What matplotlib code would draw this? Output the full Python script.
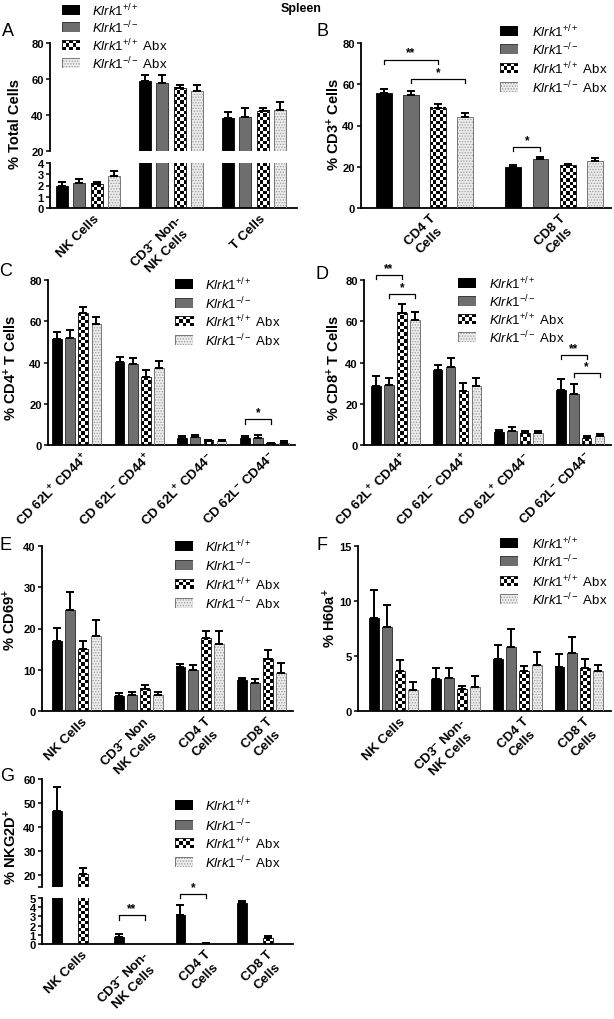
import numpy as np
import matplotlib
matplotlib.use("Agg")
import matplotlib.pyplot as plt
from matplotlib.patches import Rectangle
from matplotlib.transforms import ScaledTranslation

plt.rcParams["font.family"] = ["Liberation Sans", "DejaVu Sans"]
plt.rcParams["mathtext.fontset"] = "custom"
plt.rcParams["mathtext.rm"] = "Liberation Sans"
plt.rcParams["mathtext.it"] = "Liberation Sans:italic"
plt.rcParams["mathtext.bf"] = "Liberation Sans:bold"
plt.rcParams["hatch.color"] = "#9a9a9a"
plt.rcParams["hatch.linewidth"] = 0.6

W, H = 614, 1020

# ─── Data (rows = series, columns = groups) ───────────────────────────────────
SERIES = [r"$\mathit{Klrk1}^{+/+}$", r"$\mathit{Klrk1}^{-/-}$",
          r"$\mathit{Klrk1}^{+/+}$ Abx", r"$\mathit{Klrk1}^{-/-}$ Abx"]

a_groups = ["NK Cells", "CD3$^{\\mathbf{-}}$ Non-\nNK Cells", "T Cells"]
a_mean = [[2.0, 59.0, 38.3], [2.25, 57.7, 39.0], [2.15, 55.2, 42.3], [2.85, 53.3, 42.9]]
a_err = [[0.35, 3.5, 3.4], [0.35, 4.8, 4.8], [0.2, 1.4, 1.5], [0.45, 3.5, 4.4]]

b_groups = ["CD4 T\nCells", "CD8 T\nCells"]
b_mean = [[55.9, 19.9], [54.6, 23.9], [48.5, 20.7], [44.1, 22.8]]
b_err = [[1.6, 1.1], [1.9, 0.8], [2.1, 0.5], [1.9, 1.4]]
b_sig = [(0, 0, 2, 72.0, "**"), (0, 1, 3, 62.7, "*"), (1, 0, 1, 29.6, "*")]

cd_groups = ["CD 62L$^{\\mathbf{+}}$ CD44$^{\\mathbf{+}}$",
             "CD 62L$^{\\mathbf{-}}$ CD44$^{\\mathbf{+}}$",
             "CD 62L$^{\\mathbf{+}}$ CD44$^{\\mathbf{-}}$",
             "CD 62L$^{\\mathbf{-}}$ CD44$^{\\mathbf{-}}$"]
c_mean = [[51.5, 40.4, 3.5, 3.2], [51.8, 39.3, 3.8, 3.6], [63.9, 32.8, 2.0, 0.6], [58.6, 37.4, 2.0, 1.2]]
c_err = [[3.5, 2.1, 0.8, 1.0], [4.2, 2.9, 1.0, 1.1], [3.2, 3.6, 0.6, 0.3], [3.5, 3.4, 0.5, 0.6]]
c_sig = [(3, 0, 2, 12.6, "*")]

d_mean = [[28.8, 36.6, 6.1, 26.9], [29.3, 38.0, 6.6, 24.6], [64.1, 26.0, 5.7, 3.4], [60.8, 28.5, 5.8, 4.2]]
d_err = [[4.5, 2.2, 1.4, 5.0], [3.1, 4.1, 2.2, 5.0], [4.3, 4.1, 1.2, 1.0], [3.9, 4.0, 1.0, 1.0]]
d_sig = [(0, 0, 2, 82.5, "**"), (0, 1, 3, 73.3, "*"), (3, 0, 2, 43.7, "**"), (3, 1, 3, 35.0, "*")]

e_groups = ["NK Cells", "CD3$^{\\mathbf{-}}$ Non\nNK Cells", "CD4 T\nCells", "CD8 T\nCells"]
e_mean = [[17.0, 3.6, 10.7, 7.4], [24.4, 3.9, 9.9, 6.9], [15.1, 5.4, 17.8, 12.7], [18.3, 4.0, 16.2, 9.1]]
e_err = [[3.2, 0.7, 0.8, 0.5], [4.5, 0.7, 1.2, 0.8], [1.9, 0.8, 1.6, 2.0], [3.8, 0.7, 3.2, 2.5]]

fg_groups = ["NK Cells", "CD3$^{\\mathbf{-}}$ Non-\nNK Cells", "CD4 T\nCells", "CD8 T\nCells"]
f_mean = [[8.5, 2.9, 4.7, 4.0], [7.6, 3.0, 5.85, 5.3], [3.6, 2.0, 3.6, 3.9], [1.9, 2.2, 4.2, 3.6]]
f_err = [[2.5, 1.0, 1.3, 1.2], [2.0, 0.9, 1.6, 1.4], [1.0, 0.3, 0.5, 0.8], [0.7, 1.0, 1.2, 0.55]]

g_mean = [[46.5, 0.8, 3.1, 4.5], [0, 0, 0, 0], [20.3, 0, 0.1, 0.65], [0, 0, 0, 0]]
g_err = [[10.3, 0.3, 1.1, 0.2], [0, 0, 0, 0], [2.7, 0, 0.05, 0.25], [0, 0, 0, 0]]
g_sig = [(1, 0, 2, 3.1, "**"), (2, 0, 2, 5.4, "*")]

# ─── Styling helpers ──────────────────────────────────────────────────────────
STEP = 0.21
SQ = 3.4          # checker square size, px
YT_FS = 8
XT_FS = 9.5
fig = plt.figure(figsize=(W / 100, H / 100), dpi=100)


def px_axes(left, top, right, bottom):
    return fig.add_axes([left / W, 1 - bottom / H, (right - left) / W, (bottom - top) / H])


def checker(nr, nc):
    i, j = np.indices((nr, nc))
    return ((i + j) % 2).astype(float)


def bold_yticks(ax):
    for lab in ax.get_yticklabels():
        lab.set_fontweight("bold")


def draw_bars(ax, means, errs, width, xlim, ylim):
    means = np.asarray(means, float)
    errs = np.asarray(errs, float)
    ax.set_xlim(*xlim)
    ax.set_ylim(*ylim)
    ax.autoscale(False)
    x = np.arange(means.shape[1])
    for k in range(4):
        xs = x + (k - 1.5) * STEP
        m = means[k]
        if k == 0:
            ax.bar(xs, m, width, color="black", edgecolor="black", lw=0.6, zorder=2)
        elif k == 1:
            ax.bar(xs, m, width, color="#6e6e6e", edgecolor="#3a3a3a", lw=0.7, zorder=2)
        elif k == 2:
            for xi, mi in zip(xs, m):
                lo, hi = max(0, ylim[0]), min(mi, ylim[1])
                if hi <= lo:
                    continue
                p0 = ax.transData.transform((xi - width / 2, lo))
                p1 = ax.transData.transform((xi + width / 2, hi))
                nc = max(1, int(round((p1[0] - p0[0]) / SQ)))
                nr = max(1, int(round((p1[1] - p0[1]) / SQ)))
                ax.imshow(checker(nr, nc), cmap="gray", vmin=0, vmax=1, origin="lower",
                          extent=(xi - width / 2, xi + width / 2, lo, hi), aspect="auto",
                          interpolation="nearest", zorder=2)
            ax.bar(xs, m, width, fill=False, edgecolor="#222222", lw=0.7, zorder=3)
        else:
            ax.bar(xs, m, width, color="#ececec", hatch="......", zorder=2)
            ax.bar(xs, m, width, fill=False, edgecolor="#777777", lw=0.7, zorder=3)
        ok = errs[k] > 0
        ax.errorbar(xs[ok], m[ok], yerr=[np.zeros(ok.sum()), errs[k][ok]], fmt="none",
                    ecolor="black", elinewidth=1.4, capsize=2.6, capthick=1.4, zorder=4)
    ax.set_xlim(*xlim)
    ax.set_ylim(*ylim)
    for s in ("top", "right"):
        ax.spines[s].set_visible(False)
    for s in ("left", "bottom"):
        ax.spines[s].set_linewidth(1.3)
    ax.tick_params(axis="y", length=3, width=1.1, pad=1.5, labelsize=YT_FS)
    ax.tick_params(axis="x", length=0, pad=3, labelsize=XT_FS)


def set_groups(ax, groups):
    ax.set_xticks(np.arange(len(groups)))
    ax.set_xticklabels(groups, rotation=45, ha="right", rotation_mode="anchor",
                       fontweight="bold", fontsize=XT_FS, multialignment="center")
    shift = ScaledTranslation(0.05, 0.0, fig.dpi_scale_trans)
    for lab in ax.get_xticklabels():
        lab.set_transform(lab.get_transform() + shift)


def brackets(ax, sigs, drop):
    for g, s1, s2, y, lab in sigs:
        x1 = g + (s1 - 1.5) * STEP
        x2 = g + (s2 - 1.5) * STEP
        ax.plot([x1, x1, x2, x2], [y - drop, y, y, y - drop], color="black", lw=0.9,
                clip_on=False, zorder=5)
        ax.text((x1 + x2) / 2, y + drop * 0.2, lab, ha="center", va="bottom",
                fontsize=8.5, fontweight="bold", clip_on=False)


def legend(x_sq, ys, x_txt):
    for k, y in enumerate(ys):
        lax = px_axes(x_sq, y - 5, x_sq + 18, y + 5)
        lax.set_axis_off()
        lax.set_xlim(0, 1)
        lax.set_ylim(0, 1)
        if k == 0:
            lax.add_patch(Rectangle((0, 0), 1, 1, color="black"))
        elif k == 1:
            lax.add_patch(Rectangle((0, 0), 1, 1, facecolor="#6e6e6e", edgecolor="#3a3a3a", lw=0.7))
        elif k == 2:
            lax.imshow(checker(3, 5), cmap="gray", vmin=0, vmax=1, extent=(0, 1, 0, 1),
                       aspect="auto", interpolation="nearest")
            lax.add_patch(Rectangle((0, 0), 1, 1, fill=False, edgecolor="#222222", lw=0.7))
        else:
            lax.add_patch(Rectangle((0, 0), 1, 1, facecolor="#ececec", hatch="......"))
            lax.add_patch(Rectangle((0, 0), 1, 1, fill=False, edgecolor="#777777", lw=0.7))
        fig.text(x_txt / W, 1 - y / H, SERIES[k], fontsize=9.5, va="center", ha="left")


def ftext(x, y, s, **kw):
    fig.text(x / W, 1 - y / H, s, **kw)


def ylabel(x, y, s):
    ftext(x, y, s, rotation=90, ha="center", va="center", fontsize=10.5, fontweight="bold")


# ─── Panel A (broken axis) ────────────────────────────────────────────────────
a_xlim = (-0.46, 2.52)
axA1 = px_axes(50, 44, 297, 152)
draw_bars(axA1, a_mean, a_err, 0.145, a_xlim, (20, 80))
axA1.set_yticks([20, 40, 60, 80])
bold_yticks(axA1)
axA1.spines["bottom"].set_visible(False)
axA1.set_xticks([])
axA2 = px_axes(50, 164, 297, 209)
draw_bars(axA2, a_mean, a_err, 0.145, a_xlim, (0, 4))
axA2.set_yticks([0, 1, 2, 3, 4])
bold_yticks(axA2)
set_groups(axA2, a_groups)
ylabel(15, 124, "% Total Cells")
legend(62, [11, 28, 46, 64], 92)

# ─── Panel B ──────────────────────────────────────────────────────────────────
axB = px_axes(361, 44, 611, 209)
draw_bars(axB, b_mean, b_err, 0.122, (-0.49, 1.44), (0, 80))
axB.set_yticks([0, 20, 40, 60, 80])
bold_yticks(axB)
set_groups(axB, b_groups)
brackets(axB, b_sig, 2.2)
ylabel(334, 124, "% CD3$^{\\mathbf{+}}$ Cells")
legend(500, [32, 50, 69, 88], 532)

# ─── Panel C ──────────────────────────────────────────────────────────────────
axC = px_axes(48, 281, 295, 446)
draw_bars(axC, c_mean, c_err, 0.155, (-0.46, 3.49), (0, 80))
axC.set_yticks([0, 20, 40, 60, 80])
bold_yticks(axC)
set_groups(axC, cd_groups)
brackets(axC, c_sig, 2.2)
ylabel(11, 368, "% CD4$^{\\mathbf{+}}$ T Cells")
legend(175, [285, 304, 322, 341], 205)

# ─── Panel D ──────────────────────────────────────────────────────────────────
axD = px_axes(364, 281, 611, 446)
draw_bars(axD, d_mean, d_err, 0.155, (-0.51, 3.5), (0, 80))
axD.set_yticks([0, 20, 40, 60, 80])
bold_yticks(axD)
set_groups(axD, cd_groups)
brackets(axD, d_sig, 2.2)
ylabel(334, 368, "% CD8$^{\\mathbf{+}}$ T Cells")
legend(458, [284, 302, 320, 338], 489)

# ─── Panel E ──────────────────────────────────────────────────────────────────
axE = px_axes(42, 547, 293, 712)
draw_bars(axE, e_mean, e_err, 0.16, (-0.56, 3.51), (0, 40))
axE.set_yticks([0, 10, 20, 30, 40])
bold_yticks(axE)
set_groups(axE, e_groups)
ylabel(10, 620, "% CD69$^{\\mathbf{+}}$")
legend(175, [547, 566, 585, 604], 205)

# ─── Panel F ──────────────────────────────────────────────────────────────────
axF = px_axes(358, 547, 611, 712)
draw_bars(axF, f_mean, f_err, 0.16, (-0.58, 3.52), (0, 15))
axF.set_yticks([0, 5, 10, 15])
bold_yticks(axF)
set_groups(axF, fg_groups)
ylabel(330, 618, "% H60a$^{\\mathbf{+}}$")
legend(500, [544, 562, 582, 600], 532)

# ─── Panel G (broken axis) ────────────────────────────────────────────────────
g_xlim = (-0.56, 3.51)
axG1 = px_axes(42, 780, 293, 888)
draw_bars(axG1, g_mean, g_err, 0.16, g_xlim, (15, 60))
axG1.set_yticks([15, 20, 30, 40, 50, 60])
axG1.set_yticklabels(["", "20", "30", "40", "50", "60"], fontweight="bold")
axG1.spines["bottom"].set_visible(False)
axG1.set_xticks([])
axG2 = px_axes(42, 899, 293, 945)
draw_bars(axG2, g_mean, g_err, 0.16, g_xlim, (0, 5))
axG2.set_yticks([0, 1, 2, 3, 4, 5])
bold_yticks(axG2)
set_groups(axG2, fg_groups)
brackets(axG2, g_sig, 0.45)
ylabel(11, 847, "% NKG2D$^{\\mathbf{+}}$")
legend(175, [806, 826, 844, 863], 205)

# ─── Titles / panel letters ───────────────────────────────────────────────────
ftext(301, 9, "Spleen", ha="center", va="center", fontsize=9, fontweight="bold")
for letter, x, y in [("A", 8, 31), ("B", 322, 31), ("C", 6, 272), ("D", 322, 275),
                     ("E", 6, 546), ("F", 322, 546), ("G", 7, 777)]:
    ftext(x, y, letter, ha="center", va="center", fontsize=13)

fig.savefig("out.png", dpi=100)
